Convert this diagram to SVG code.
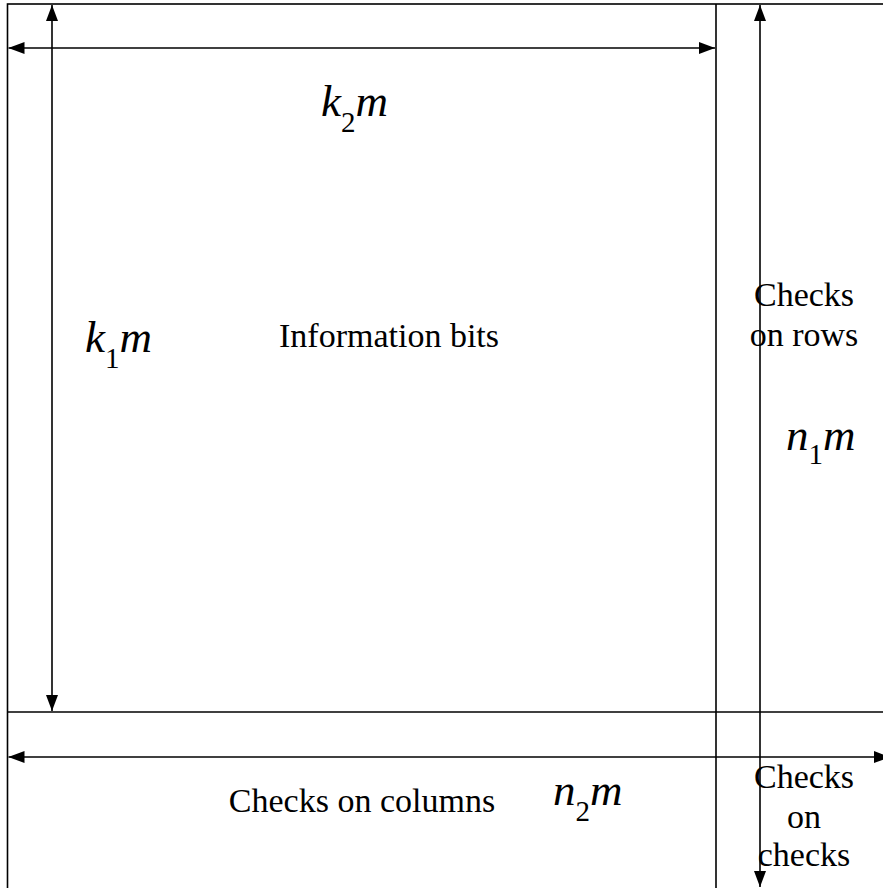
<svg xmlns="http://www.w3.org/2000/svg" width="883" height="888" viewBox="0 0 883 888">
  <style>
    .frame { fill: none; stroke: #000; stroke-width: 1.6; }
    .dim { fill: none; stroke: #000; stroke-width: 1.6; marker-start: url(#head); marker-end: url(#head); }
    .label { font-family: "Liberation Serif", "Times New Roman", "DejaVu Serif", serif; font-size: 34px; fill: #000; }
    .math { font-family: "Liberation Serif", "Times New Roman", "DejaVu Serif", serif; font-size: 45px; font-style: italic; fill: #000; }
    .sub { font-size: 29px; font-style: normal; }
  </style>
  <defs>
    <marker id="head" viewBox="0 0 16 12" refX="16" refY="6" markerWidth="16" markerHeight="12" markerUnits="userSpaceOnUse" orient="auto-start-reverse">
      <path d="M0,0 L16,6 L0,12 Z" fill="#000"/>
    </marker>
  </defs>

  <!-- block partition of the product code array -->
  <g id="grid">
    <rect class="frame" x="7.5" y="4" width="900" height="900"/>
    <line class="frame" x1="716" y1="4" x2="716" y2="888"/>
    <line class="frame" x1="7.5" y1="712" x2="883" y2="712"/>
  </g>

  <!-- dimension arrows -->
  <g id="connectors">
    <line class="dim" x1="8.5" y1="48" x2="715" y2="48"/>
    <line class="dim" x1="52" y1="5" x2="52" y2="711"/>
    <line class="dim" x1="760" y1="5" x2="760" y2="887"/>
    <line class="dim" x1="8.5" y1="757" x2="890" y2="757"/>
  </g>

  <g id="info-bits">
    <text class="label" x="389" y="347" text-anchor="middle">Information bits</text>
  </g>

  <g id="checks-rows">
    <text class="label" x="804" y="306" text-anchor="middle">Checks</text>
    <text class="label" x="804" y="346" text-anchor="middle">on rows</text>
  </g>

  <g id="checks-columns">
    <text class="label" x="362" y="812" text-anchor="middle">Checks on columns</text>
  </g>

  <g id="checks-checks">
    <text class="label" x="804" y="788" text-anchor="middle">Checks</text>
    <text class="label" x="804" y="828" text-anchor="middle">on</text>
    <text class="label" x="804" y="866" text-anchor="middle">checks</text>
  </g>

  <g id="k2m">
    <text class="math" x="321" y="116">k<tspan class="sub" dy="16">2</tspan><tspan dy="-16">m</tspan></text>
  </g>
  <g id="k1m">
    <text class="math" x="85" y="352">k<tspan class="sub" dy="16">1</tspan><tspan dy="-16">m</tspan></text>
  </g>
  <g id="n1m">
    <text class="math" x="786" y="450">n<tspan class="sub" dy="14">1</tspan><tspan dy="-14">m</tspan></text>
  </g>
  <g id="n2m">
    <text class="math" x="553" y="805">n<tspan class="sub" dy="16">2</tspan><tspan dy="-16">m</tspan></text>
  </g>
</svg>
